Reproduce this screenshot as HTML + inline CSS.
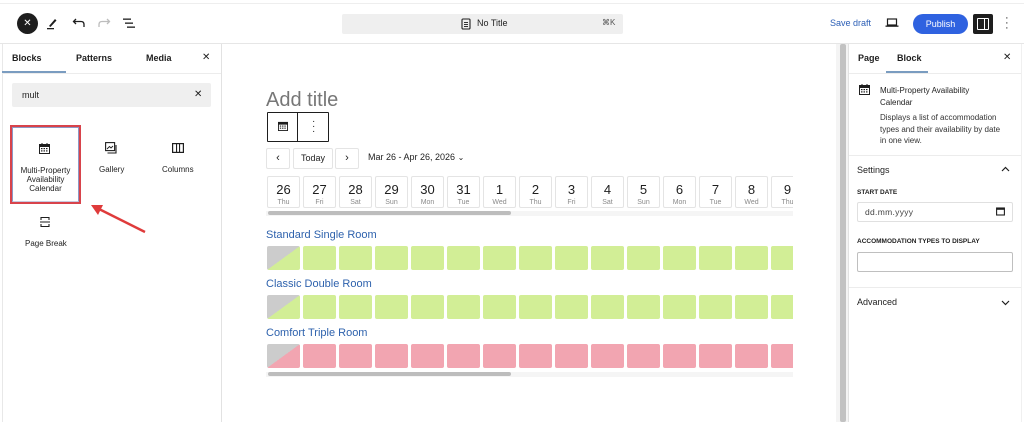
<!DOCTYPE html>
<html><head><meta charset="utf-8">
<style>
*{box-sizing:border-box;margin:0;padding:0}
html,body{width:1024px;height:422px;overflow:hidden;background:#fff}
body{font-family:"Liberation Sans",Arial,sans-serif;color:#1e1e1e;position:relative}
.a{position:absolute}
.t{position:absolute;white-space:nowrap;line-height:1}
.cell{position:absolute;width:33px;height:32px;border:1px solid #e4e4e4;border-radius:2px;background:#fff;text-align:center}
.cell b{display:block;font-weight:normal;font-size:13px;margin-top:5px;color:#1e1e1e}
.cell i{display:block;font-style:normal;font-size:7px;color:#8a8a8a;margin-top:2px}
.rc{position:absolute;width:33px;height:24px;border-radius:2px}
.g{background:#d2ee96}
.p{background:#f2a5b1}
</style></head><body>

<!-- top border line -->
<div class="a" style="left:0;top:3px;width:1024px;height:1px;background:#eeeeee"></div>
<!-- top bar bottom -->
<div class="a" style="left:0;top:43px;width:1024px;height:1px;background:#e6e6e6"></div>

<!-- close circle -->
<div class="a" style="left:17px;top:13px;width:21px;height:21px;border-radius:50%;background:#1e1e1e;color:#fff;font-size:10px;text-align:center;line-height:21px">✕</div>
<!-- pencil -->
<svg class="a" style="left:46px;top:16px" width="12" height="14" viewBox="0 0 12 14"><path d="M3 10 L9 3 L10.5 4.5 L4.5 11 Z" fill="#1e1e1e"/><rect x="1" y="12" width="7" height="1.3" fill="#1e1e1e"/></svg>
<!-- undo -->
<svg class="a" style="left:72px;top:17px" width="14" height="12" viewBox="0 0 14 12"><path d="M4 2 L1.5 4.5 L4 7 M1.5 4.5 H9 Q12 4.5 12 7.5 V10" fill="none" stroke="#1e1e1e" stroke-width="1.3"/></svg>
<!-- redo -->
<svg class="a" style="left:97px;top:17px" width="14" height="12" viewBox="0 0 14 12"><path d="M10 2 L12.5 4.5 L10 7 M12.5 4.5 H5 Q2 4.5 2 7.5 V10" fill="none" stroke="#bdbdbd" stroke-width="1.3"/></svg>
<!-- list view -->
<svg class="a" style="left:122px;top:17px" width="14" height="12" viewBox="0 0 14 12"><rect x="1" y="1.5" width="8" height="1.3" fill="#1e1e1e"/><rect x="3" y="5.5" width="8" height="1.3" fill="#1e1e1e"/><rect x="5" y="9.5" width="8" height="1.3" fill="#1e1e1e"/></svg>

<!-- command bar -->
<div class="a" style="left:342px;top:14px;width:281px;height:20px;background:#efefef;border-radius:2px"></div>
<svg class="a" style="left:461px;top:18px" width="10" height="12" viewBox="0 0 10 12"><rect x="1" y="1" width="8" height="10" rx="1" fill="none" stroke="#1e1e1e" stroke-width="1.1"/><rect x="3" y="4" width="4" height="0.9" fill="#1e1e1e"/><rect x="3" y="6" width="4" height="0.9" fill="#1e1e1e"/><rect x="3" y="8" width="4" height="0.9" fill="#1e1e1e"/></svg>
<div class="t" style="left:477px;top:19px;font-size:9px">No Title</div>
<div class="t" style="left:602px;top:19px;font-size:8px;color:#555">⌘K</div>

<!-- right top -->
<div class="t" style="left:830px;top:19px;font-size:9px;color:#2c5fb6">Save draft</div>
<svg class="a" style="left:885px;top:18px" width="14" height="10" viewBox="0 0 14 10"><rect x="2.5" y="1" width="9" height="6" fill="none" stroke="#1e1e1e" stroke-width="1.2"/><rect x="0.5" y="7.5" width="13" height="1.3" fill="#1e1e1e"/></svg>
<div class="a" style="left:913px;top:14px;width:55px;height:20px;border-radius:10px;background:#2f62e0;color:#fff;font-size:9px;text-align:center;line-height:20px">Publish</div>
<div class="a" style="left:973px;top:14px;width:20px;height:20px;background:#1e1e1e;border-radius:2px"></div>
<div class="a" style="left:977px;top:18px;width:12px;height:12px;border:1.3px solid #fff;border-radius:1px"></div>
<div class="a" style="left:984px;top:18px;width:1.3px;height:12px;background:#fff"></div>
<div class="t" style="left:1005px;top:16px;font-size:11px;line-height:5px;color:#1e1e1e">·<br>·<br>·</div>

<!-- left sidebar -->
<div class="a" style="left:2px;top:44px;width:1px;height:378px;background:#e8e8e8"></div>
<div class="a" style="left:221px;top:44px;width:1px;height:378px;background:#e2e2e2"></div>
<div class="a" style="left:2px;top:73px;width:219px;height:1px;background:#ececec"></div>
<div class="a" style="left:2px;top:71px;width:64px;height:2px;background:#7a9cc0"></div>
<div class="t" style="left:12px;top:54px;font-size:9px;font-weight:bold">Blocks</div>
<div class="t" style="left:76px;top:54px;font-size:9px;font-weight:bold">Patterns</div>
<div class="t" style="left:146px;top:54px;font-size:9px;font-weight:bold">Media</div>
<div class="t" style="left:202px;top:53px;font-size:10px">✕</div>

<div class="a" style="left:12px;top:83px;width:199px;height:24px;background:#efefef;border-radius:2px"></div>
<div class="t" style="left:22px;top:91px;font-size:9px">mult</div>
<div class="t" style="left:194px;top:90px;font-size:10px">✕</div>

<!-- selected block item -->
<div class="a" style="left:10px;top:125px;width:71px;height:79px;border:2px solid #d8434b"></div>
<div class="a" style="left:12px;top:127px;width:67px;height:75px;border:1px solid #8d97c4;border-bottom-color:#c7cbe0"></div>
<svg class="a" style="left:39px;top:143px" width="11" height="11" viewBox="0 0 11 11"><rect x="0.5" y="1.5" width="10" height="9" fill="none" stroke="#1e1e1e"/><rect x="0.5" y="1.5" width="10" height="2.5" fill="#1e1e1e"/><rect x="2.5" y="0" width="1" height="2" fill="#1e1e1e"/><rect x="7.5" y="0" width="1" height="2" fill="#1e1e1e"/><g fill="#1e1e1e"><rect x="2" y="5" width="1.5" height="1.2"/><rect x="4.5" y="5" width="1.5" height="1.2"/><rect x="7" y="5" width="1.5" height="1.2"/><rect x="2" y="7.3" width="1.5" height="1.2"/><rect x="4.5" y="7.3" width="1.5" height="1.2"/><rect x="7" y="7.3" width="1.5" height="1.2"/></g></svg>
<div class="t" style="left:10px;top:166px;width:71px;text-align:center;font-size:8px;line-height:9px;white-space:normal">Multi-Property<br>Availability<br>Calendar</div>

<svg class="a" style="left:105px;top:142px" width="12" height="12" viewBox="0 0 12 12"><rect x="0.6" y="0.6" width="9" height="8" fill="none" stroke="#1e1e1e" stroke-width="1.1"/><path d="M2 7 L4.5 4.5 L6 6 L8 4" fill="none" stroke="#1e1e1e" stroke-width="0.9"/><path d="M2.5 11 H11 V3" fill="none" stroke="#1e1e1e" stroke-width="1.1"/></svg>
<div class="t" style="left:99px;top:166px;font-size:8px">Gallery</div>

<svg class="a" style="left:172px;top:143px" width="12" height="10" viewBox="0 0 12 10"><rect x="0.6" y="0.6" width="10.8" height="8.8" fill="none" stroke="#1e1e1e" stroke-width="1.2"/><rect x="4" y="1" width="1.1" height="8" fill="#1e1e1e"/><rect x="7" y="1" width="1.1" height="8" fill="#1e1e1e"/></svg>
<div class="t" style="left:162px;top:166px;font-size:8px">Columns</div>

<svg class="a" style="left:39px;top:216px" width="12" height="12" viewBox="0 0 12 12"><path d="M2 4 V1.5 H10 V4 M2 8 V10.5 H10 V8" fill="none" stroke="#1e1e1e" stroke-width="1.1"/><rect x="1" y="5.5" width="10" height="1" fill="#1e1e1e"/></svg>
<div class="t" style="left:25px;top:240px;font-size:8px">Page Break</div>

<!-- red arrow -->
<svg class="a" style="left:80px;top:195px" width="80" height="50" viewBox="0 0 80 50"><line x1="65" y1="37" x2="17" y2="13" stroke="#df3b3b" stroke-width="2.4"/><path d="M11 10 L23 10 L18 20 Z" fill="#df3b3b"/></svg>

<!-- canvas -->
<div class="t" style="left:266px;top:90px;font-size:20px;color:#777">Add title</div>
<div class="a" style="left:267px;top:112px;width:62px;height:30px;border:1px solid #1e1e1e;border-radius:1px"></div>
<div class="a" style="left:297px;top:112px;width:1px;height:30px;background:#1e1e1e"></div>
<svg class="a" style="left:278px;top:121px" width="10" height="10" viewBox="0 0 11 11"><rect x="0.5" y="1.5" width="10" height="9" fill="none" stroke="#1e1e1e"/><rect x="0.5" y="1.5" width="10" height="2.5" fill="#1e1e1e"/><g fill="#1e1e1e"><rect x="2" y="5" width="1.5" height="1.2"/><rect x="4.5" y="5" width="1.5" height="1.2"/><rect x="7" y="5" width="1.5" height="1.2"/><rect x="2" y="7.3" width="1.5" height="1.2"/><rect x="4.5" y="7.3" width="1.5" height="1.2"/><rect x="7" y="7.3" width="1.5" height="1.2"/></g></svg>
<div class="t" style="left:312px;top:119px;font-size:10px;line-height:5px">·<br>·<br>·</div>

<div class="a" style="left:266px;top:148px;width:24px;height:21px;border:1px solid #e4e4e4;border-radius:2px;text-align:center;font-size:11px;line-height:19px">‹</div>
<div class="a" style="left:293px;top:148px;width:40px;height:21px;border:1px solid #e4e4e4;border-radius:2px;text-align:center;font-size:9px;line-height:19px">Today</div>
<div class="a" style="left:335px;top:148px;width:24px;height:21px;border:1px solid #e4e4e4;border-radius:2px;text-align:center;font-size:11px;line-height:19px">›</div>
<div class="t" style="left:368px;top:153px;font-size:9px">Mar 26 - Apr 26, 2026 <span style="font-size:8px">⌄</span></div>

<div class="a" style="left:266px;top:176px;width:527px;height:44px;overflow:hidden">
<div class="cell" style="left:1px;top:0"><b>26</b><i>Thu</i></div>
<div class="cell" style="left:37px;top:0"><b>27</b><i>Fri</i></div>
<div class="cell" style="left:73px;top:0"><b>28</b><i>Sat</i></div>
<div class="cell" style="left:109px;top:0"><b>29</b><i>Sun</i></div>
<div class="cell" style="left:145px;top:0"><b>30</b><i>Mon</i></div>
<div class="cell" style="left:181px;top:0"><b>31</b><i>Tue</i></div>
<div class="cell" style="left:217px;top:0"><b>1</b><i>Wed</i></div>
<div class="cell" style="left:253px;top:0"><b>2</b><i>Thu</i></div>
<div class="cell" style="left:289px;top:0"><b>3</b><i>Fri</i></div>
<div class="cell" style="left:325px;top:0"><b>4</b><i>Sat</i></div>
<div class="cell" style="left:361px;top:0"><b>5</b><i>Sun</i></div>
<div class="cell" style="left:397px;top:0"><b>6</b><i>Mon</i></div>
<div class="cell" style="left:433px;top:0"><b>7</b><i>Tue</i></div>
<div class="cell" style="left:469px;top:0"><b>8</b><i>Wed</i></div>
<div class="cell" style="left:505px;top:0"><b>9</b><i>Thu</i></div>
<div class="a" style="left:0;top:35px;width:527px;height:5px;background:#f5f5f5"></div>
<div class="a" style="left:2px;top:35px;width:243px;height:4px;background:#bdbdbd;border-radius:2px"></div>
</div>

<div class="t" style="left:266px;top:230px;font-size:11px;color:#2e62ad">Standard Single Room</div>
<div class="t" style="left:266px;top:279px;font-size:11px;color:#2e62ad">Classic Double Room</div>
<div class="t" style="left:266px;top:328px;font-size:11px;color:#2e62ad">Comfort Triple Room</div>

<div class="a" style="left:266px;top:246px;width:527px;height:135px;overflow:hidden">
 <!-- row 1 -->
 <div class="rc" style="left:1px;top:0;background:linear-gradient(to bottom right,#cccccc 50%,#d2ee96 50%)"></div>
 <div class="rc g" style="left:37px;top:0"></div><div class="rc g" style="left:73px;top:0"></div><div class="rc g" style="left:109px;top:0"></div><div class="rc g" style="left:145px;top:0"></div><div class="rc g" style="left:181px;top:0"></div><div class="rc g" style="left:217px;top:0"></div><div class="rc g" style="left:253px;top:0"></div><div class="rc g" style="left:289px;top:0"></div><div class="rc g" style="left:325px;top:0"></div><div class="rc g" style="left:361px;top:0"></div><div class="rc g" style="left:397px;top:0"></div><div class="rc g" style="left:433px;top:0"></div><div class="rc g" style="left:469px;top:0"></div><div class="rc g" style="left:505px;top:0"></div>
 <!-- row 2 -->
 <div class="rc" style="left:1px;top:49px;background:linear-gradient(to bottom right,#cccccc 50%,#d2ee96 50%)"></div>
 <div class="rc g" style="left:37px;top:49px"></div><div class="rc g" style="left:73px;top:49px"></div><div class="rc g" style="left:109px;top:49px"></div><div class="rc g" style="left:145px;top:49px"></div><div class="rc g" style="left:181px;top:49px"></div><div class="rc g" style="left:217px;top:49px"></div><div class="rc g" style="left:253px;top:49px"></div><div class="rc g" style="left:289px;top:49px"></div><div class="rc g" style="left:325px;top:49px"></div><div class="rc g" style="left:361px;top:49px"></div><div class="rc g" style="left:397px;top:49px"></div><div class="rc g" style="left:433px;top:49px"></div><div class="rc g" style="left:469px;top:49px"></div><div class="rc g" style="left:505px;top:49px"></div>
 <!-- row 3 -->
 <div class="rc" style="left:1px;top:98px;background:linear-gradient(to bottom right,#cccccc 50%,#f2a5b1 50%)"></div>
 <div class="rc p" style="left:37px;top:98px"></div><div class="rc p" style="left:73px;top:98px"></div><div class="rc p" style="left:109px;top:98px"></div><div class="rc p" style="left:145px;top:98px"></div><div class="rc p" style="left:181px;top:98px"></div><div class="rc p" style="left:217px;top:98px"></div><div class="rc p" style="left:253px;top:98px"></div><div class="rc p" style="left:289px;top:98px"></div><div class="rc p" style="left:325px;top:98px"></div><div class="rc p" style="left:361px;top:98px"></div><div class="rc p" style="left:397px;top:98px"></div><div class="rc p" style="left:433px;top:98px"></div><div class="rc p" style="left:469px;top:98px"></div><div class="rc p" style="left:505px;top:98px"></div>
 <div class="a" style="left:0;top:126px;width:527px;height:5px;background:#f5f5f5"></div>
 <div class="a" style="left:2px;top:126px;width:243px;height:4px;background:#bdbdbd;border-radius:2px"></div>
</div>

<!-- canvas scrollbar -->
<div class="a" style="left:836px;top:44px;width:12px;height:378px;background:#f4f4f4"></div>
<div class="a" style="left:840px;top:44px;width:6px;height:378px;background:#c2c2c2;border-radius:2px"></div>
<div class="a" style="left:848px;top:44px;width:1px;height:378px;background:#e2e2e2"></div>

<!-- right sidebar -->
<div class="a" style="left:1021px;top:44px;width:1px;height:378px;background:#f0f0f0"></div>
<div class="t" style="left:858px;top:54px;font-size:9px;font-weight:bold">Page</div>
<div class="t" style="left:897px;top:54px;font-size:9px;font-weight:bold">Block</div>
<div class="t" style="left:1003px;top:53px;font-size:10px">✕</div>
<div class="a" style="left:849px;top:73px;width:172px;height:1px;background:#ececec"></div>
<div class="a" style="left:886px;top:71px;width:42px;height:2px;background:#7a9cc0"></div>

<svg class="a" style="left:859px;top:84px" width="11" height="11" viewBox="0 0 11 11"><rect x="0.5" y="1.5" width="10" height="9" fill="none" stroke="#1e1e1e"/><rect x="0.5" y="1.5" width="10" height="2.5" fill="#1e1e1e"/><rect x="2.5" y="0" width="1" height="2" fill="#1e1e1e"/><rect x="7.5" y="0" width="1" height="2" fill="#1e1e1e"/><g fill="#1e1e1e"><rect x="2" y="5" width="1.5" height="1.2"/><rect x="4.5" y="5" width="1.5" height="1.2"/><rect x="7" y="5" width="1.5" height="1.2"/><rect x="2" y="7.3" width="1.5" height="1.2"/><rect x="4.5" y="7.3" width="1.5" height="1.2"/><rect x="7" y="7.3" width="1.5" height="1.2"/></g></svg>
<div class="t" style="left:880px;top:85px;font-size:8px;line-height:11.5px">Multi-Property Availability<br>Calendar</div>
<div class="t" style="left:880px;top:112px;font-size:8px;line-height:11.5px;color:#333">Displays a list of accommodation<br>types and their availability by date<br>in one view.</div>
<div class="a" style="left:849px;top:155px;width:172px;height:1px;background:#ececec"></div>

<div class="t" style="left:857px;top:166px;font-size:9px">Settings</div>
<svg class="a" style="left:1001px;top:166px" width="9" height="6" viewBox="0 0 9 6"><path d="M1 5 L4.5 1.5 L8 5" fill="none" stroke="#1e1e1e" stroke-width="1.2"/></svg>
<div class="t" style="left:857px;top:190px;font-size:6.5px;font-weight:bold">START DATE</div>
<div class="a" style="left:857px;top:202px;width:156px;height:20px;border:1px solid #e0e0e0;border-radius:2px"></div>
<div class="t" style="left:865px;top:208px;font-size:8.5px;color:#444;letter-spacing:0.3px">dd.mm.yyyy</div>
<svg class="a" style="left:996px;top:207px" width="9" height="9" viewBox="0 0 9 9"><rect x="0.6" y="1" width="7.8" height="7" fill="none" stroke="#1e1e1e" stroke-width="1.1"/><rect x="0.6" y="1" width="7.8" height="1.8" fill="#1e1e1e"/></svg>
<div class="t" style="left:857px;top:239px;font-size:6.5px;font-weight:bold">ACCOMMODATION TYPES TO DISPLAY</div>
<div class="a" style="left:857px;top:252px;width:156px;height:20px;border:1px solid #bfbfbf;border-radius:2px"></div>
<div class="a" style="left:849px;top:287px;width:172px;height:1px;background:#ececec"></div>
<div class="t" style="left:857px;top:298px;font-size:9px">Advanced</div>
<svg class="a" style="left:1001px;top:300px" width="9" height="6" viewBox="0 0 9 6"><path d="M1 1 L4.5 4.5 L8 1" fill="none" stroke="#1e1e1e" stroke-width="1.2"/></svg>

</body></html>
